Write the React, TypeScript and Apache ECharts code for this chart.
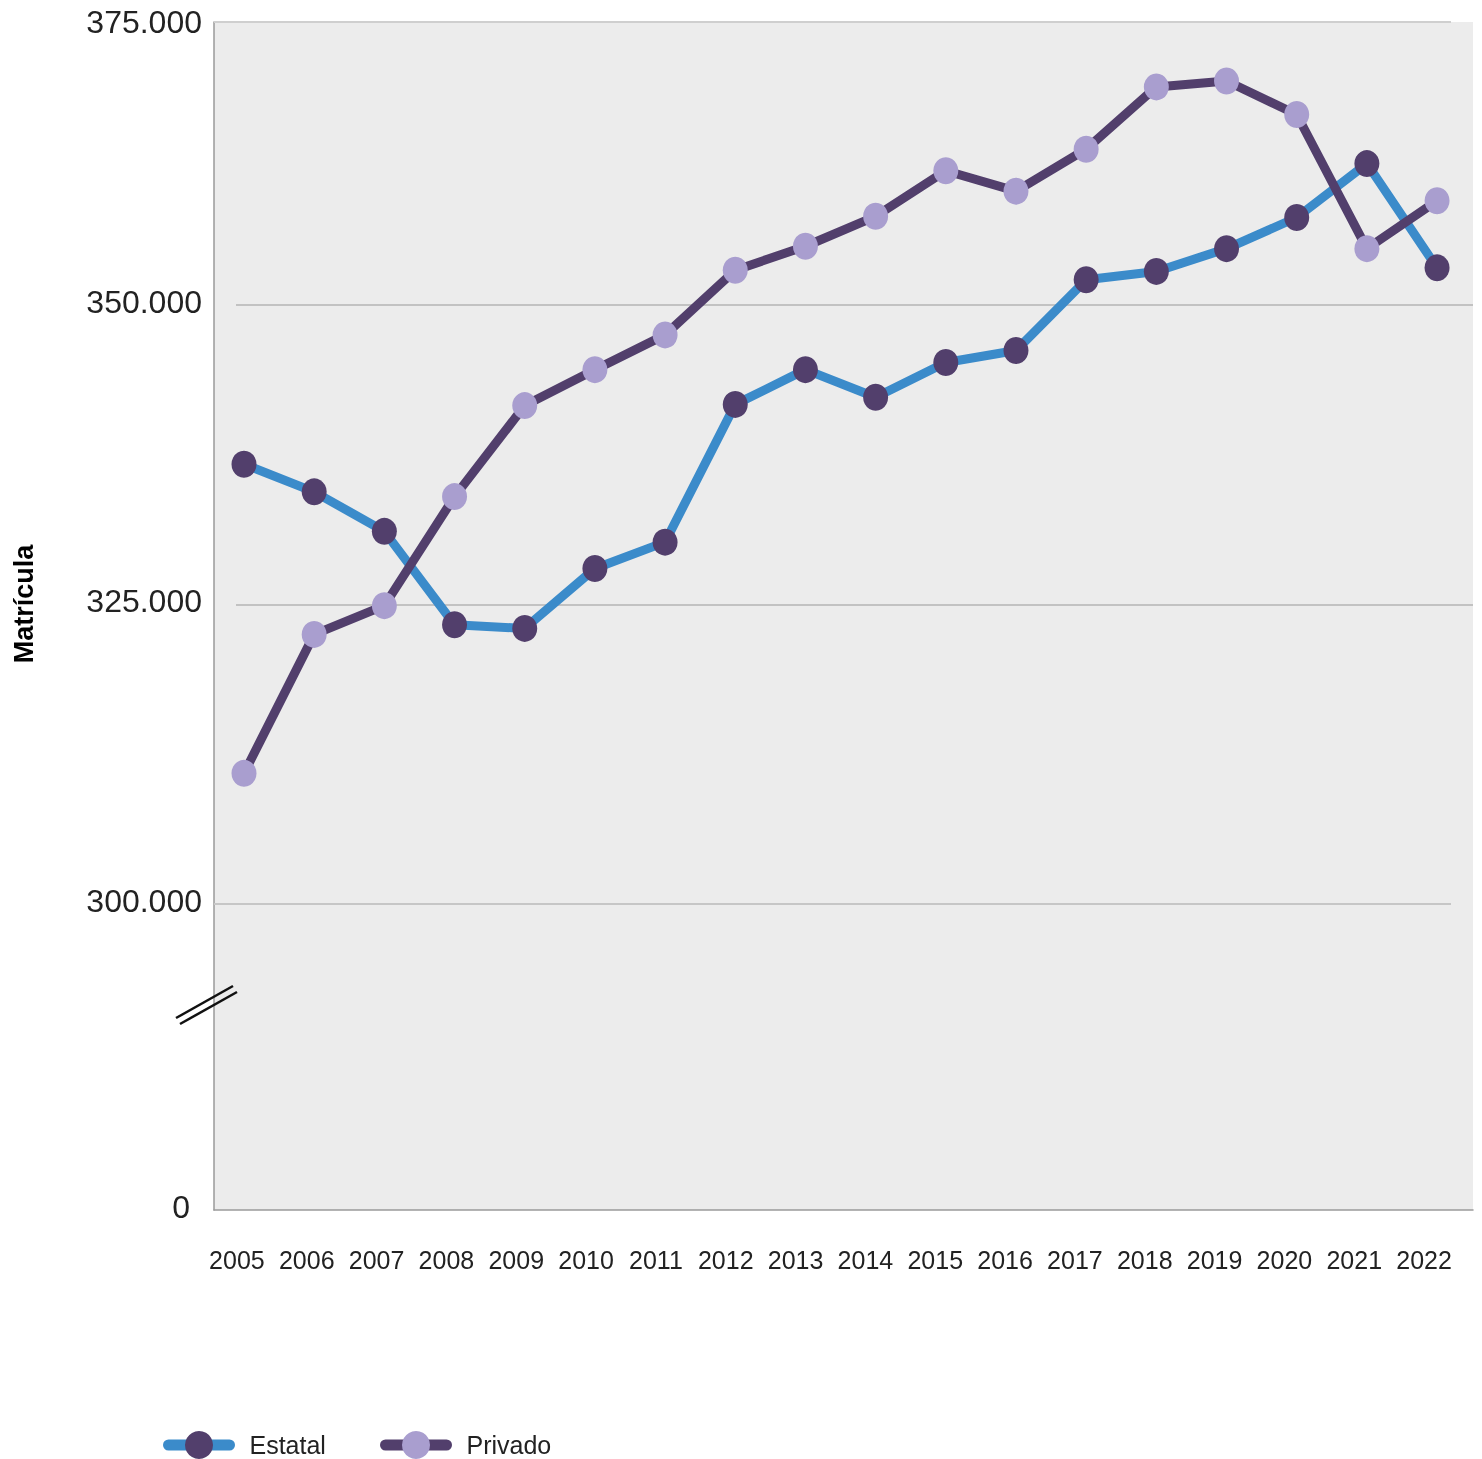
import React, { useEffect, useRef } from 'react';
import * as echarts from 'echarts';

const years = ['2005', '2006', '2007', '2008', '2009', '2010', '2011', '2012', '2013', '2014', '2015', '2016', '2017', '2018', '2019', '2020', '2021', '2022'];
const estatal = [336700, 334400, 331100, 323300, 323000, 328000, 330200, 341700, 344600, 342300, 345200, 346200, 352100, 352800, 354700, 357300, 361800, 353100];
const privado = [310900, 322500, 324900, 334000, 341600, 344600, 347500, 352900, 354900, 357400, 361200, 359500, 363000, 368200, 368700, 365900, 354700, 358700];
const yGridValues = [300000, 325000, 350000];
const yTickLabels = ['0', '300.000', '325.000', '350.000', '375.000'];
const seriesNames = ['Estatal', 'Privado'];

const FONT = '"Liberation Sans", Arial, sans-serif';
const BLUE = '#3b8bca';
const DARK = '#523f6c';
const LAVENDER = '#a99ecf';

export default function App() {
  const ref = useRef<HTMLDivElement>(null);
  useEffect(() => {
    const chart = echarts.init(ref.current!, null, { renderer: 'svg' });
    const FIRST_PX = 244;
    const PX_PER_YEAR = 70.18;
    const pxToYear = (px: number) => 2005 + (px - FIRST_PX) / PX_PER_YEAR;
    const XMIN = pxToYear(214);
    const XMAX = pxToYear(1473);
    const YMIN = 274450;
    const YMAX = 373620;
    const yTickValues = [YMIN, ...yGridValues, YMAX];

    const legendBase = {
      top: 1431, padding: 0, itemWidth: 61, itemHeight: 35,
      selectedMode: false, lineStyle: { width: 11, cap: 'round' },
      textStyle: { fontSize: 25, lineHeight: 22, color: '#222', fontFamily: FONT, padding: [0, 0, 0, 15] },
    };

    const option: any = {
      animation: false,
      grid: [
        { left: 214, right: 9, top: 22, bottom: 249, show: true, backgroundColor: '#ececec', borderWidth: 0 },
        { left: 202, right: 23, top: 22, bottom: 249, show: false },
      ],
      xAxis: [
        {
          type: 'value', gridIndex: 0, min: XMIN, max: XMAX,
          axisLine: { show: true, onZero: false, lineStyle: { color: '#9a9a9a', width: 1.5 } },
          axisTick: { show: false }, axisLabel: { show: false }, splitLine: { show: false },
        },
        {
          type: 'category', gridIndex: 1, data: years, boundaryGap: true,
          axisLine: { show: false }, axisTick: { show: false }, splitLine: { show: false },
          axisLabel: { margin: 37, fontSize: 25, color: '#222', fontFamily: FONT, interval: 0 },
        },
      ],
      yAxis: [
        {
          type: 'value', gridIndex: 0, min: YMIN, max: YMAX,
          axisLine: { show: true, onZero: false, lineStyle: { color: '#9a9a9a', width: 1.5 } },
          axisTick: { show: false }, splitLine: { show: false },
          axisLabel: {
            customValues: yTickValues,
            margin: 12,
            fontSize: 32, color: '#222', fontFamily: FONT,
            formatter: (v: number) => {
              const idx = yTickValues.indexOf(v);
              const t = idx >= 0 ? yTickLabels[idx] : '';
              if (idx === 0) return '{z|' + t + '}';
              if (idx === yTickValues.length - 1) return '{t|' + t + '}';
              return '{a|' + t + '}';
            },
            rich: {
              a: { fontSize: 32, color: '#222', fontFamily: FONT, padding: [0, 0, 6, 0] },
              t: { fontSize: 32, color: '#222', fontFamily: FONT },
              z: { fontSize: 32, color: '#222', fontFamily: FONT, padding: [0, 12, 6, 0] },
            },
          },
        },
        { type: 'value', gridIndex: 1, show: false },
      ],
      legend: [
        { ...legendBase, data: [seriesNames[0]], left: 163 },
        { ...legendBase, data: [seriesNames[1]], left: 380 },
      ],
      graphic: [
        { type: 'line', z: 100, shape: { x1: 176, y1: 1018, x2: 233, y2: 986 }, style: { stroke: '#111', lineWidth: 2.5 } },
        { type: 'line', z: 100, shape: { x1: 180, y1: 1024, x2: 237, y2: 992 }, style: { stroke: '#111', lineWidth: 2.5 } },
        {
          type: 'text', x: 24, y: 604, rotation: Math.PI / 2, z: 100,
          style: { text: 'Matrícula', fontSize: 27, fontWeight: 'bold', fill: '#000', fontFamily: FONT, align: 'center', verticalAlign: 'middle' },
        },
      ],
      series: [
        {
          name: 'grid-lines', type: 'line', xAxisIndex: 0, yAxisIndex: 0, data: [], clip: false, silent: true,
          markLine: {
            silent: true, z: 1, symbol: ['none', 'none'], label: { show: false }, animation: false,
            data: [
              [{ coord: [XMIN, YMAX], lineStyle: { color: '#cfcfcf', width: 2, type: 'solid' } }, { coord: [pxToYear(1451), YMAX] }],
              [{ coord: [XMIN, yGridValues[0]], lineStyle: { color: '#c6c6c6', width: 2, type: 'solid' } }, { coord: [pxToYear(1451), yGridValues[0]] }],
              [{ coord: [pxToYear(236), yGridValues[1]], lineStyle: { color: '#b4b4b4', width: 1.5, type: 'solid' } }, { coord: [XMAX, yGridValues[1]] }],
              [{ coord: [pxToYear(236), yGridValues[2]], lineStyle: { color: '#b4b4b4', width: 1.5, type: 'solid' } }, { coord: [XMAX, yGridValues[2]] }],
            ],
          },
        },
        {
          name: seriesNames[0], type: 'line', xAxisIndex: 0, yAxisIndex: 0, z: 3,
          data: years.map((y, i) => [Number(y), estatal[i]]),
          symbol: 'circle', symbolSize: [25, 27], showAllSymbol: true,
          lineStyle: { color: BLUE, width: 9, join: 'round' },
          itemStyle: { color: DARK, borderWidth: 0 },
          emphasis: { disabled: true },
        },
        {
          name: seriesNames[1], type: 'line', xAxisIndex: 0, yAxisIndex: 0, z: 4,
          data: years.map((y, i) => [Number(y), privado[i]]),
          symbol: 'circle', symbolSize: [25, 27], showAllSymbol: true,
          lineStyle: { color: DARK, width: 9, join: 'round' },
          itemStyle: { color: LAVENDER, borderWidth: 0 },
          emphasis: { disabled: true },
        },
      ],
    };
    chart.setOption(option);
    return () => chart.dispose();
  }, []);
  return <div ref={ref} style={{ position: 'fixed', left: 0, top: 0, width: 1482, height: 1459 }} />;
}
